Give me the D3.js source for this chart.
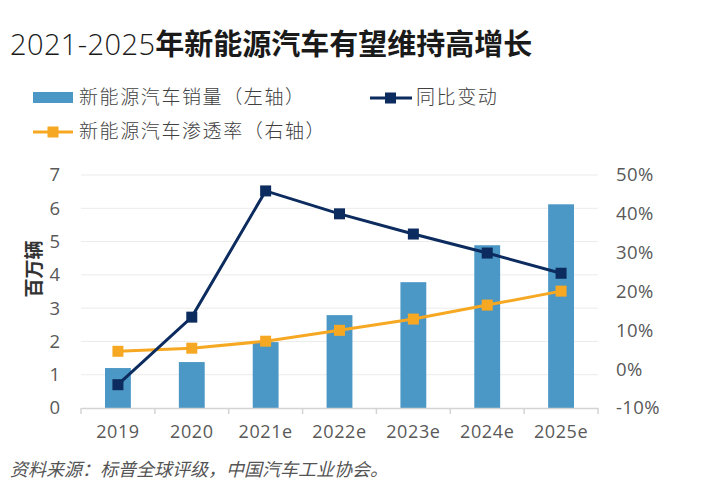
<!DOCTYPE html>
<html>
<head>
<meta charset="utf-8">
<script src="https://cdn.jsdelivr.net/npm/d3@7"></script>
<style>
  body { margin: 0; background: #fff; }
  text { font-family: "Open Sans", "Noto Sans CJK SC", sans-serif; }
</style>
</head>
<body>
<svg width="704" height="503"></svg>
<script>
// chart data
var years = ["2019", "2020", "2021e", "2022e", "2023e", "2024e", "2025e"]
var sales = [1.2, 1.38, 1.98, 2.79, 3.78, 4.89, 6.12]          // 百万辆
var yoy = [-0.04, 0.134, 0.459, 0.40, 0.348, 0.299, 0.247]      // 同比变动
var penetration = [0.046, 0.054, 0.072, 0.10, 0.129, 0.165, 0.201] // 渗透率
var leftTicks = [0, 1, 2, 3, 4, 5, 6, 7]
var rightTicks = [-0.1, 0, 0.1, 0.2, 0.3, 0.4, 0.5]

var svg = d3.select("svg")
var cjk = '"Noto Sans CJK SC", sans-serif'

var x = d3.scaleBand().domain(years).range([81, 598]).paddingInner(0.65).paddingOuter(0.325)
var xb = d3.scaleBand().domain(years).range([81, 598])
var yl = d3.scaleLinear().domain([0, 7]).range([408, 175])
var yr = d3.scaleLinear().domain([-0.1, 0.5]).range([408, 175])

// title
var title = svg.append("text").attr("x", 10).attr("y", 55).attr("font-size", 29).attr("fill", "#1a1a1a")
title.append("tspan").text("2021-2025").attr("font-family", "Open Sans").attr("font-weight", 300).attr("letter-spacing", 0.4)
title.append("tspan").text("年新能源汽车有望维持高增长").attr("font-family", cjk).attr("font-weight", 700)

// gridlines
svg.append("g")
  .selectAll("line")
  .data(leftTicks.slice(1))
  .enter()
  .append("line")
    .attr("x1", 81).attr("x2", 598)
    .attr("y1", function(d){ return yl(d) }).attr("y2", function(d){ return yl(d) })
    .attr("stroke", "#ebebeb").attr("stroke-width", 1)

// bars
svg.append("g")
  .selectAll("rect")
  .data(sales)
  .enter()
  .append("rect")
    .attr("x", function(d, i){ return x(years[i]) })
    .attr("width", x.bandwidth())
    .attr("y", function(d){ return yl(d) })
    .attr("height", function(d){ return yl(0) - yl(d) })
    .attr("fill", "#4b97c5")

// bottom axis
var xAxis = d3.axisBottom(xb).tickSize(0).tickPadding(17)
var gx = svg.append("g").attr("transform", "translate(0,408)").call(xAxis)
gx.select(".domain").attr("stroke", "#d4d4d4").attr("stroke-width", 1.5)
gx.selectAll("text").attr("font-size", 18).attr("letter-spacing", 0.6).attr("fill", "#595959").attr("font-family", "Open Sans")
gx.selectAll(".bound")
  .data(d3.range(years.length + 1))
  .enter()
  .append("line")
    .attr("class", "bound")
    .attr("x1", function(i){ return 81 + i * xb.step() })
    .attr("x2", function(i){ return 81 + i * xb.step() })
    .attr("y1", 0).attr("y2", 6)
    .attr("stroke", "#d4d4d4").attr("stroke-width", 1.5)

// left axis
var gl = svg.append("g").attr("transform", "translate(60,0)")
  .call(d3.axisLeft(yl).tickValues(leftTicks).tickSize(0).tickPadding(0).tickFormat(d3.format("d")))
gl.select(".domain").remove()
gl.selectAll("text").attr("font-size", 18.5).attr("fill", "#595959").attr("font-family", "Open Sans")

// right axis
var gr = svg.append("g").attr("transform", "translate(616,0)")
  .call(d3.axisRight(yr).tickValues(rightTicks).tickSize(0).tickPadding(0)
    .tickFormat(function(d){ return Math.round(d * 100) + "%" }))
gr.select(".domain").remove()
gr.selectAll("text").attr("font-size", 18.5).attr("letter-spacing", 0.4).attr("fill", "#595959").attr("font-family", "Open Sans")

// y label
svg.append("text")
  .attr("transform", "translate(41,269) rotate(-90)")
  .attr("text-anchor", "middle")
  .attr("font-family", cjk).attr("font-weight", 700)
  .attr("font-size", 19).attr("fill", "#333")
  .text("百万辆")

function drawLine(vals, color){
  var line = d3.line()
    .x(function(d, i){ return xb(years[i]) + xb.bandwidth() / 2 })
    .y(function(d){ return yr(d) })
  svg.append("path").datum(vals)
    .attr("d", line)
    .attr("fill", "none").attr("stroke", color).attr("stroke-width", 3)
  svg.append("g")
    .selectAll("rect")
    .data(vals)
    .enter()
    .append("rect")
      .attr("x", function(d, i){ return xb(years[i]) + xb.bandwidth() / 2 - 5.5 })
      .attr("y", function(d){ return yr(d) - 5.5 })
      .attr("width", 11).attr("height", 11)
      .attr("fill", color)
}

drawLine(penetration, "#f7a823")
drawLine(yoy, "#0c2b5e")

// legend
var lg = svg.append("g").attr("font-family", cjk).attr("font-size", 19).attr("font-weight", 300)
  .attr("letter-spacing", 1.6).attr("fill", "#404040")
lg.append("rect").attr("x", 33).attr("y", 92).attr("width", 40).attr("height", 11).attr("fill", "#4b97c5")
lg.append("text").attr("x", 79).attr("y", 104).attr("fill", "#404040").text("新能源汽车销量（左轴）")

lg.append("line").attr("x1", 370).attr("x2", 412).attr("y1", 98).attr("y2", 98).attr("stroke", "#0c2b5e").attr("stroke-width", 3)
lg.append("rect").attr("x", 385).attr("y", 92.5).attr("width", 11).attr("height", 11).attr("fill", "#0c2b5e")
lg.append("text").attr("x", 416).attr("y", 104).attr("fill", "#404040").text("同比变动")

lg.append("line").attr("x1", 33).attr("x2", 73).attr("y1", 132).attr("y2", 132).attr("stroke", "#f7a823").attr("stroke-width", 3)
lg.append("rect").attr("x", 47.5).attr("y", 126.5).attr("width", 11).attr("height", 11).attr("fill", "#f7a823")
lg.append("text").attr("x", 79).attr("y", 138).attr("fill", "#404040").text("新能源汽车渗透率（右轴）")

// source
svg.append("text")
  .attr("x", 10).attr("y", 476)
  .attr("font-family", '"Noto Serif CJK SC", "Noto Sans CJK SC", serif')
  .attr("font-style", "italic").attr("font-size", 18).attr("fill", "#555")
  .text("资料来源：标普全球评级，中国汽车工业协会。")
</script>
</body>
</html>
